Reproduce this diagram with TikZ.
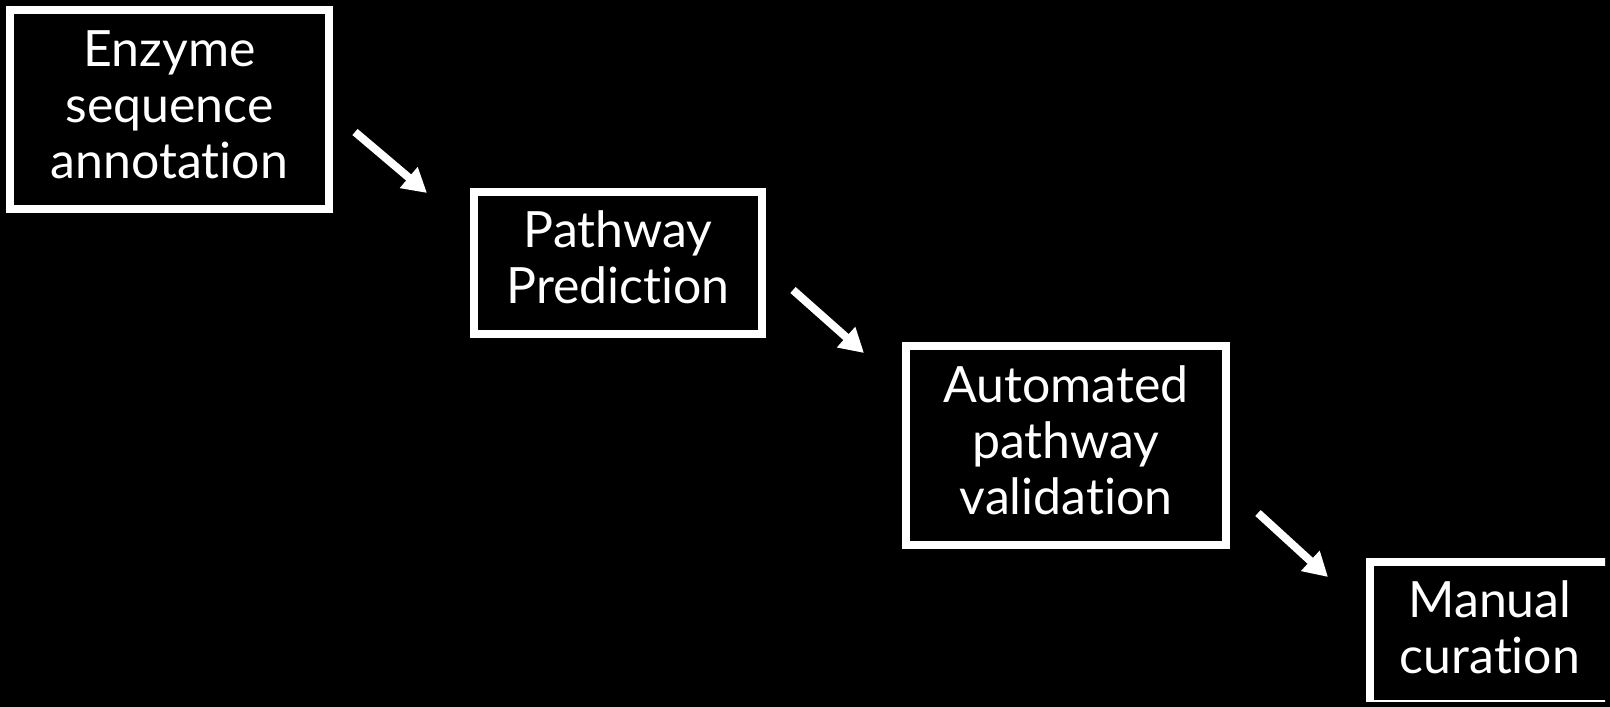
\documentclass[tikz,border=0pt]{standalone}
\usepackage{fontspec}
\setmainfont{Lato}[Ligatures={NoCommon,NoDiscretionary,NoRare}]
\usetikzlibrary{arrows.meta}
% invisible strut: fixes the top of the first line and the bottom of the last one
\newcommand{\bs}{\rule[-15pt]{0pt}{55pt}}
\begin{document}
\begin{tikzpicture}[x=1pt,y=-1pt,
  stage/.style={draw=white, line width=8pt, fill=black, text=white,
    align=center, inner sep=0pt, font=\fontsize{50}{56}\selectfont},
  flow/.style={draw=white, line width=8pt,
    -{Triangle[length=24pt,width=26pt]}}]
\fill[black] (0,0) rectangle (1610,707);
\useasboundingbox (0,0) rectangle (1610,707);
\begin{scope}
\clip (0,0) rectangle (1605,701);
% pipeline stages
\node[stage, minimum width=319pt, minimum height=199pt] (enz) at (169.5,109.5)
  {\bs Enzyme\\sequence\\annotation\bs};
\node[stage, minimum width=288pt, minimum height=142pt] (pred) at (618,263)
  {\bs Pathway\\Prediction\bs};
\node[stage, minimum width=320pt, minimum height=199pt] (valid) at (1066,445.5)
  {\bs Automated\\pathway\\validation\bs};
\node[stage, minimum width=240pt, minimum height=142pt] (cur) at (1490,633)
  {\bs Manual\\curation\bs};
% step arrows between the stages
\coordinate (a1s) at (355,132);  \coordinate (a1e) at (427,193);
\coordinate (a2s) at (793,290);  \coordinate (a2e) at (864,353);
\coordinate (a3s) at (1258,513); \coordinate (a3e) at (1328,577);
\draw[flow] (a1s) -- (a1e);
\draw[flow] (a2s) -- (a2e);
\draw[flow] (a3s) -- (a3e);
\end{scope}
\end{tikzpicture}
\end{document}
